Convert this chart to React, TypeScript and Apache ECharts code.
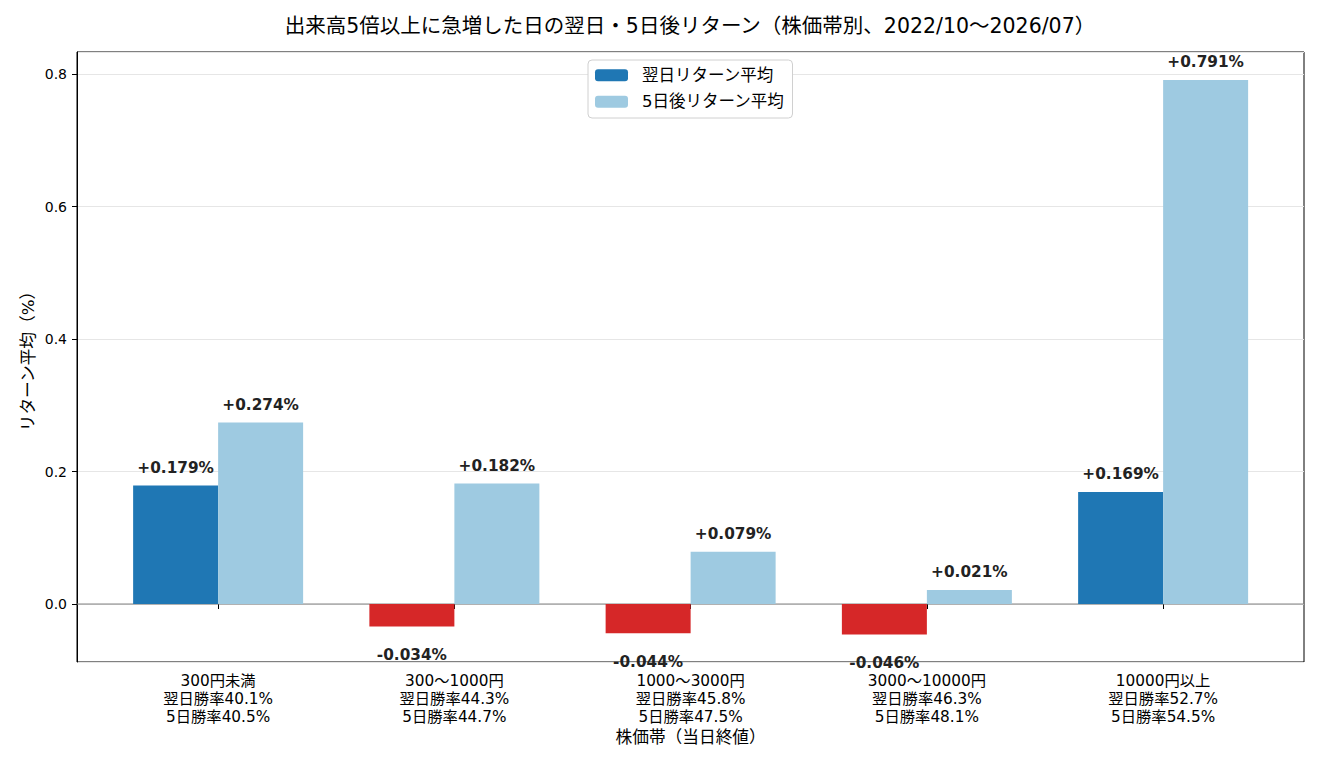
import { useEffect, useRef } from 'react';
import * as echarts from 'echarts';

const categories = ['300円未満', '300～1000円', '1000～3000円', '3000～10000円', '10000円以上'];
const nextDayReturn = [0.179, -0.034, -0.044, -0.046, 0.169];
const fiveDayReturn = [0.274, 0.182, 0.079, 0.021, 0.791];
const nextDayWinRate = [40.1, 44.3, 45.8, 46.3, 52.7];
const fiveDayWinRate = [40.5, 44.7, 47.5, 48.1, 54.5];

const FONT = '"DejaVu Sans", "Noto Sans CJK JP", sans-serif';
const Y_MIN = -0.0875;
const Y_MAX = 0.8332;

const fmt = (v: number) => (v >= 0 ? '+' : '') + v.toFixed(3) + '%';

export default function App() {
  const chartRef = useRef<HTMLDivElement>(null);

  useEffect(() => {
    if (!chartRef.current) return;
    const chart = echarts.init(chartRef.current, undefined, { renderer: 'svg' });

    const xLabels = categories.map(
      (c, i) => `${c}\n翌日勝率${nextDayWinRate[i].toFixed(1)}%\n5日勝率${fiveDayWinRate[i].toFixed(1)}%`
    );

    const barLabel = (v: number) => ({
      show: true,
      position: v >= 0 ? 'top' : 'bottom',
      distance: v >= 0 ? 10 : 21,
      formatter: fmt(v),
      fontFamily: FONT,
      fontSize: 15.3,
      fontWeight: 'bold',
      color: '#222',
    });

    const option = {
      animation: false,
      textStyle: { fontFamily: FONT },
      graphic: [
        {
          type: 'text',
          x: 690,
          y: 26,
          style: {
            text: '出来高5倍以上に急増した日の翌日・5日後リターン（株価帯別、2022/10～2026/07）',
            fontFamily: FONT,
            fontSize: 20.5,
            fill: '#000',
            textAlign: 'center',
            textVerticalAlign: 'middle',
          },
        },
      ],
      legend: {
        data: ['翌日リターン平均', '5日後リターン平均'],
        orient: 'vertical',
        left: 588,
        top: 60,
        padding: [7, 8, 8, 7],
        itemWidth: 33,
        itemHeight: 12,
        itemGap: 10,
        borderColor: '#d0d0d0',
        borderWidth: 1,
        borderRadius: 4,
        backgroundColor: '#fff',
        textStyle: { fontFamily: FONT, fontSize: 16.5, color: '#000', padding: [0, 0, 0, 9] },
      },
      grid: [
        {
          left: 77,
          top: 52,
          width: 1227,
          height: 610,
          show: true,
          borderColor: '#000',
          borderWidth: 1,
          backgroundColor: 'transparent',
        },
        { left: 100, top: 52, width: 1181.25, height: 610 },
      ],
      xAxis: [
        {
          gridIndex: 0,
          type: 'value',
          min: 0,
          max: 1,
          axisLine: { show: false },
          axisTick: { show: false },
          axisLabel: { show: false },
          splitLine: { show: false },
        },
        {
          gridIndex: 1,
          type: 'category',
          data: xLabels,
          axisLine: { show: false },
          axisTick: { show: true, alignWithLabel: true, length: 5, lineStyle: { color: '#000' } },
          axisLabel: { fontFamily: FONT, fontSize: 15.3, lineHeight: 18, color: '#000', margin: 10 },
          name: '株価帯（当日終値）',
          nameLocation: 'middle',
          nameGap: 67,
          nameMoveOverlap: false,
          nameTextStyle: { fontFamily: FONT, fontSize: 16.7, color: '#000' },
        },
      ],
      yAxis: [
        {
          gridIndex: 0,
          type: 'value',
          min: Y_MIN,
          max: Y_MAX,
          splitNumber: 5,
          axisLine: { show: true, lineStyle: { color: '#000' } },
          axisTick: { show: true, length: 5, lineStyle: { color: '#000' } },
          axisLabel: {
            fontFamily: FONT,
            fontSize: 14,
            color: '#000',
            margin: 10,
            showMinLabel: false,
            showMaxLabel: false,
            formatter: (v: number) => (Math.abs(v * 5 - Math.round(v * 5)) < 1e-6 ? v.toFixed(1) : ''),
          },
          splitLine: { show: true, lineStyle: { color: '#e6e6e6', width: 1 } },
          name: 'リターン平均（%）',
          nameLocation: 'middle',
          nameGap: 41,
          nameMoveOverlap: false,
          nameTextStyle: { fontFamily: FONT, fontSize: 16.7, color: '#000' },
        },
        { gridIndex: 1, type: 'value', min: Y_MIN, max: Y_MAX, show: false },
      ],
      series: [
        {
          name: 'zero',
          type: 'line',
          xAxisIndex: 0,
          yAxisIndex: 0,
          data: [
            [0, 0],
            [1, 0],
          ],
          symbol: 'none',
          silent: true,
          lineStyle: { color: '#808080', width: 1 },
          z: 1,
        },
        {
          name: '翌日リターン平均',
          type: 'bar',
          xAxisIndex: 1,
          yAxisIndex: 1,
          barWidth: 85,
          barGap: '0%',
          itemStyle: { color: '#1f77b4' },
          data: nextDayReturn.map((v) => ({
            value: v,
            itemStyle: { color: v < 0 ? '#d62728' : '#1f77b4' },
            label: barLabel(v),
          })),
          z: 2,
        },
        {
          name: '5日後リターン平均',
          type: 'bar',
          xAxisIndex: 1,
          yAxisIndex: 1,
          barWidth: 85,
          barGap: '0%',
          itemStyle: { color: '#9ecae1' },
          data: fiveDayReturn.map((v) => ({ value: v, label: barLabel(v) })),
          z: 2,
        },
      ],
    };

    chart.setOption(option as any);
    return () => {
      chart.dispose();
    };
  }, []);

  return (
    <div
      ref={chartRef}
      style={{ position: 'fixed', left: 0, top: 0, width: 1320, height: 770, background: '#fff' }}
    />
  );
}
